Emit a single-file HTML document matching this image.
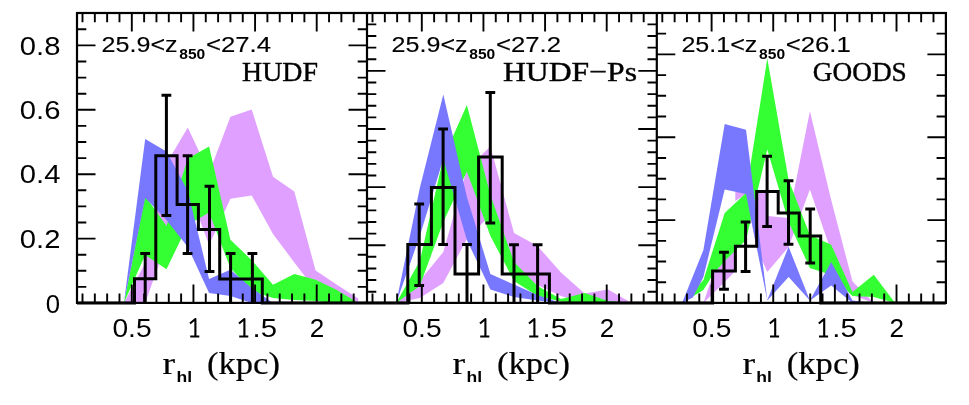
<!DOCTYPE html><html><head><meta charset="utf-8"><title>fig</title><style>html,body{margin:0;padding:0;background:#fff}svg{display:block}text{font-family:"Liberation Sans",sans-serif;fill:#000}.s{font-family:"Liberation Serif",serif}</style></head><body>
<svg width="969" height="405" viewBox="0 0 969 405">
<rect width="969" height="405" fill="#fff"/>
<g>
<polygon fill="#e0a0ff" points="123.9,302.9 145.2,263.0 166.5,163.5 187.8,127.5 209.1,173.0 230.4,116.7 251.7,109.5 273.0,176.7 294.3,191.6 315.6,270.6 336.9,284.7 358.2,298.4 358.2,302.9 336.9,298.0 315.6,290.0 294.3,262.4 273.0,234.0 251.7,195.4 230.4,198.7 209.1,245.0 187.8,188.0 166.5,243.0 145.2,302.9 123.9,302.9"/>
<polygon fill="#33ff33" points="123.9,302.9 145.2,196.0 166.5,226.0 187.8,158.5 209.1,146.5 230.4,239.7 251.7,260.2 273.0,284.7 294.3,274.0 315.6,279.7 336.9,290.0 358.2,302.9 358.2,302.9 336.9,302.9 315.6,301.0 294.3,300.0 273.0,298.0 251.7,291.0 230.4,268.0 209.1,212.5 187.8,225.0 166.5,269.2 145.2,255.0 123.9,302.9"/>
<polygon fill="#7878ff" points="123.9,302.9 145.2,139.0 166.5,151.4 187.8,191.0 209.1,279.0 230.4,269.8 251.7,288.0 273.0,302.9 294.3,302.9 315.6,302.9 336.9,302.9 358.2,302.9 358.2,302.9 336.9,302.9 315.6,302.9 294.3,302.9 273.0,302.9 251.7,302.9 230.4,296.0 209.1,293.0 187.8,247.0 166.5,220.0 145.2,197.9 123.9,302.9"/>
</g>
<g>
<polygon fill="#e0a0ff" points="396.2,302.9 419.8,280.7 443.3,252.0 466.9,169.0 490.4,146.5 514.0,233.0 537.5,246.0 561.0,272.5 584.6,293.5 608.1,289.5 631.7,302.9 631.7,302.9 608.1,302.9 584.6,302.9 561.0,296.0 537.5,285.0 514.0,270.0 490.4,215.0 466.9,239.0 443.3,283.0 419.8,298.0 396.2,302.9"/>
<polygon fill="#33ff33" points="396.2,302.9 419.8,261.0 443.3,158.0 466.9,105.1 490.4,195.0 514.0,262.0 537.5,286.0 561.0,299.0 584.6,293.0 608.1,301.0 631.7,302.9 631.7,302.9 608.1,302.9 584.6,302.9 561.0,301.5 537.5,296.0 514.0,281.0 490.4,236.0 466.9,171.5 443.3,222.0 419.8,286.0 396.2,302.9"/>
<polygon fill="#7878ff" points="396.2,302.9 419.8,188.0 443.3,94.4 466.9,197.0 490.4,274.0 514.0,284.6 537.5,295.0 561.0,302.9 584.6,302.9 608.1,302.9 631.7,302.9 631.7,302.9 608.1,302.9 584.6,302.9 561.0,302.9 537.5,300.5 514.0,297.0 490.4,289.6 466.9,240.0 443.3,159.0 419.8,236.0 396.2,302.9"/>
</g>
<g>
<polygon fill="#e0a0ff" points="703.4,302.9 724.7,240.0 735.3,215.0 735.3,191.4 767.3,192.5 767.3,216.0 788.6,218.0 809.9,111.3 831.2,200.0 852.5,281.5 873.8,302.9 873.8,302.9 852.5,295.0 831.2,251.6 809.9,189.5 788.6,247.0 767.3,272.0 756.6,248.0 746.0,194.0 735.3,201.0 735.3,271.0 724.7,282.0 703.4,302.9"/>
<polygon fill="#33ff33" points="682.1,302.9 703.4,280.0 724.7,213.0 746.0,193.0 767.3,58.6 788.6,180.0 809.9,235.0 831.2,244.8 852.5,292.0 873.8,274.7 895.1,302.9 916.4,302.9 916.4,302.9 895.1,302.9 873.8,297.0 852.5,296.0 831.2,275.0 809.9,268.0 788.6,222.0 767.3,149.6 746.0,240.0 724.7,261.0 714.0,273.0 703.4,290.0 682.1,302.9"/>
<polygon fill="#7878ff" points="682.1,302.9 703.4,250.0 724.7,124.0 746.0,129.8 767.3,300.0 788.6,246.8 809.9,300.5 831.2,262.0 852.5,300.5 873.8,302.9 895.1,302.9 916.4,302.9 916.4,302.9 895.1,302.9 873.8,302.9 852.5,302.9 831.2,285.6 809.9,300.5 788.6,277.0 767.3,300.5 746.0,194.0 724.7,189.5 703.4,277.0 692.8,297.5 682.1,302.9"/>
</g>
<path d="M77.0,302.9 L134.5,302.9 L134.5,278.7 L155.8,278.7 L155.8,155.8 L177.1,155.8 L177.1,204.5 L198.4,204.5 L198.4,229.4 L219.7,229.4 L219.7,278.9 L241.0,278.9 L241.0,278.9 L262.3,278.9 L262.3,302.9 L367.0,302.9" fill="none" stroke="#000" stroke-width="3" stroke-linejoin="miter"/>
<path d="M145.2,253.6 L145.2,302.9 M140.3,253.6 L150.1,253.6" fill="none" stroke="#000" stroke-width="3"/>
<path d="M166.4,95.2 L166.4,215.5 M161.5,95.2 L171.3,95.2 M161.5,215.5 L171.3,215.5" fill="none" stroke="#000" stroke-width="3"/>
<path d="M187.6,155.8 L187.6,253.6 M182.7,155.8 L192.5,155.8 M182.7,253.6 L192.5,253.6" fill="none" stroke="#000" stroke-width="3"/>
<path d="M209.5,186.3 L209.5,271.6 M204.6,186.3 L214.4,186.3 M204.6,271.6 L214.4,271.6" fill="none" stroke="#000" stroke-width="3"/>
<path d="M230.6,253.5 L230.6,302.9 M225.7,253.5 L235.5,253.5" fill="none" stroke="#000" stroke-width="3"/>
<path d="M252.4,253.5 L252.4,302.9 M247.5,253.5 L257.3,253.5" fill="none" stroke="#000" stroke-width="3"/>
<path d="M367.0,302.9 L407.8,302.9 L407.8,244.5 L431.4,244.5 L431.4,187.4 L455.0,187.4 L455.0,273.9 L478.6,273.9 L478.6,157.0 L502.2,157.0 L502.2,273.9 L525.8,273.9 L525.8,273.9 L549.4,273.9 L549.4,302.9 L656.8,302.9" fill="none" stroke="#000" stroke-width="3" stroke-linejoin="miter"/>
<path d="M419.2,204.0 L419.2,285.5 M414.3,204.0 L424.1,204.0 M414.3,285.5 L424.1,285.5" fill="none" stroke="#000" stroke-width="3"/>
<path d="M443.1,128.9 L443.1,244.6 M438.2,128.9 L448.0,128.9 M438.2,244.6 L448.0,244.6" fill="none" stroke="#000" stroke-width="3"/>
<path d="M467.0,244.6 L467.0,302.9 M462.1,244.6 L471.9,244.6" fill="none" stroke="#000" stroke-width="3"/>
<path d="M490.3,92.4 L490.3,223.0 M485.4,92.4 L495.2,92.4 M485.4,223.0 L495.2,223.0" fill="none" stroke="#000" stroke-width="3"/>
<path d="M514.0,244.8 L514.0,302.9 M509.1,244.8 L518.9,244.8" fill="none" stroke="#000" stroke-width="3"/>
<path d="M537.6,244.8 L537.6,302.9 M532.7,244.8 L542.5,244.8" fill="none" stroke="#000" stroke-width="3"/>
<path d="M656.8,302.9 L712.6,302.9 L712.6,270.9 L735.4,270.9 L735.4,246.2 L756.7,246.2 L756.7,191.4 L778.2,191.4 L778.2,212.9 L799.2,212.9 L799.2,236.1 L820.7,236.1 L820.7,302.9 L945.9,302.9" fill="none" stroke="#000" stroke-width="3" stroke-linejoin="miter"/>
<path d="M724.0,252.2 L724.0,289.2 M719.1,252.2 L728.9,252.2 M719.1,289.2 L728.9,289.2" fill="none" stroke="#000" stroke-width="3"/>
<path d="M745.6,222.1 L745.6,271.5 M740.7,222.1 L750.5,222.1 M740.7,271.5 L750.5,271.5" fill="none" stroke="#000" stroke-width="3"/>
<path d="M767.1,156.3 L767.1,226.4 M762.2,156.3 L772.0,156.3 M762.2,226.4 L772.0,226.4" fill="none" stroke="#000" stroke-width="3"/>
<path d="M788.5,180.7 L788.5,244.3 M783.6,180.7 L793.4,180.7 M783.6,244.3 L793.4,244.3" fill="none" stroke="#000" stroke-width="3"/>
<path d="M810.2,209.1 L810.2,262.9 M805.3,209.1 L815.1,209.1 M805.3,262.9 L815.1,262.9" fill="none" stroke="#000" stroke-width="3"/>
<g stroke="#000" fill="none" stroke-width="2.2">
<rect x="77.0" y="13.0" width="868.9" height="289.9"/>
<path d="M367.0,13.0 V302.9 M656.8,13.0 V302.9"/>
</g>
<path d="M82.50,13.0 v9.3 M82.50,302.9 v-9.3 M94.83,13.0 v9.3 M94.83,302.9 v-9.3 M107.15,13.0 v9.3 M107.15,302.9 v-9.3 M119.48,13.0 v9.3 M119.48,302.9 v-9.3 M131.81,13.0 v18.5 M131.81,302.9 v-18.5 M144.13,13.0 v9.3 M144.13,302.9 v-9.3 M156.46,13.0 v9.3 M156.46,302.9 v-9.3 M168.79,13.0 v9.3 M168.79,302.9 v-9.3 M181.12,13.0 v9.3 M181.12,302.9 v-9.3 M193.44,13.0 v18.5 M193.44,302.9 v-18.5 M205.77,13.0 v9.3 M205.77,302.9 v-9.3 M218.10,13.0 v9.3 M218.10,302.9 v-9.3 M230.42,13.0 v9.3 M230.42,302.9 v-9.3 M242.75,13.0 v9.3 M242.75,302.9 v-9.3 M255.08,13.0 v18.5 M255.08,302.9 v-18.5 M267.40,13.0 v9.3 M267.40,302.9 v-9.3 M279.73,13.0 v9.3 M279.73,302.9 v-9.3 M292.06,13.0 v9.3 M292.06,302.9 v-9.3 M304.39,13.0 v9.3 M304.39,302.9 v-9.3 M316.71,13.0 v18.5 M316.71,302.9 v-18.5 M329.04,13.0 v9.3 M329.04,302.9 v-9.3 M341.37,13.0 v9.3 M341.37,302.9 v-9.3 M353.69,13.0 v9.3 M353.69,302.9 v-9.3 M372.50,13.0 v9.3 M372.50,302.9 v-9.3 M384.83,13.0 v9.3 M384.83,302.9 v-9.3 M397.15,13.0 v9.3 M397.15,302.9 v-9.3 M409.48,13.0 v9.3 M409.48,302.9 v-9.3 M421.81,13.0 v18.5 M421.81,302.9 v-18.5 M434.13,13.0 v9.3 M434.13,302.9 v-9.3 M446.46,13.0 v9.3 M446.46,302.9 v-9.3 M458.79,13.0 v9.3 M458.79,302.9 v-9.3 M471.12,13.0 v9.3 M471.12,302.9 v-9.3 M483.44,13.0 v18.5 M483.44,302.9 v-18.5 M495.77,13.0 v9.3 M495.77,302.9 v-9.3 M508.10,13.0 v9.3 M508.10,302.9 v-9.3 M520.42,13.0 v9.3 M520.42,302.9 v-9.3 M532.75,13.0 v9.3 M532.75,302.9 v-9.3 M545.08,13.0 v18.5 M545.08,302.9 v-18.5 M557.40,13.0 v9.3 M557.40,302.9 v-9.3 M569.73,13.0 v9.3 M569.73,302.9 v-9.3 M582.06,13.0 v9.3 M582.06,302.9 v-9.3 M594.39,13.0 v9.3 M594.39,302.9 v-9.3 M606.71,13.0 v18.5 M606.71,302.9 v-18.5 M619.04,13.0 v9.3 M619.04,302.9 v-9.3 M631.37,13.0 v9.3 M631.37,302.9 v-9.3 M643.69,13.0 v9.3 M643.69,302.9 v-9.3 M662.30,13.0 v9.3 M662.30,302.9 v-9.3 M674.63,13.0 v9.3 M674.63,302.9 v-9.3 M686.95,13.0 v9.3 M686.95,302.9 v-9.3 M699.28,13.0 v9.3 M699.28,302.9 v-9.3 M711.61,13.0 v18.5 M711.61,302.9 v-18.5 M723.93,13.0 v9.3 M723.93,302.9 v-9.3 M736.26,13.0 v9.3 M736.26,302.9 v-9.3 M748.59,13.0 v9.3 M748.59,302.9 v-9.3 M760.92,13.0 v9.3 M760.92,302.9 v-9.3 M773.24,13.0 v18.5 M773.24,302.9 v-18.5 M785.57,13.0 v9.3 M785.57,302.9 v-9.3 M797.90,13.0 v9.3 M797.90,302.9 v-9.3 M810.22,13.0 v9.3 M810.22,302.9 v-9.3 M822.55,13.0 v9.3 M822.55,302.9 v-9.3 M834.88,13.0 v18.5 M834.88,302.9 v-18.5 M847.20,13.0 v9.3 M847.20,302.9 v-9.3 M859.53,13.0 v9.3 M859.53,302.9 v-9.3 M871.86,13.0 v9.3 M871.86,302.9 v-9.3 M884.19,13.0 v9.3 M884.19,302.9 v-9.3 M896.51,13.0 v18.5 M896.51,302.9 v-18.5 M908.84,13.0 v9.3 M908.84,302.9 v-9.3 M921.17,13.0 v9.3 M921.17,302.9 v-9.3 M933.49,13.0 v9.3 M933.49,302.9 v-9.3 M77.0,286.90 h9.3 M77.0,270.80 h9.3 M77.0,254.70 h9.3 M77.0,238.60 h18.5 M77.0,222.50 h9.3 M77.0,206.40 h9.3 M77.0,190.30 h9.3 M77.0,174.20 h18.5 M77.0,158.10 h9.3 M77.0,142.00 h9.3 M77.0,125.90 h9.3 M77.0,109.80 h18.5 M77.0,93.70 h9.3 M77.0,77.60 h9.3 M77.0,61.50 h9.3 M77.0,45.40 h18.5 M77.0,29.30 h9.3 M367.0,286.90 h-9.3 M367.0,270.80 h-9.3 M367.0,254.70 h-9.3 M367.0,238.60 h-18.5 M367.0,222.50 h-9.3 M367.0,206.40 h-9.3 M367.0,190.30 h-9.3 M367.0,174.20 h-18.5 M367.0,158.10 h-9.3 M367.0,142.00 h-9.3 M367.0,125.90 h-9.3 M367.0,109.80 h-18.5 M367.0,93.70 h-9.3 M367.0,77.60 h-9.3 M367.0,61.50 h-9.3 M367.0,45.40 h-18.5 M367.0,29.30 h-9.3 M367.0,291.68 h9.3 M367.0,280.06 h9.3 M367.0,268.44 h9.3 M367.0,256.82 h9.3 M367.0,245.20 h18.5 M367.0,233.58 h9.3 M367.0,221.96 h9.3 M367.0,210.34 h9.3 M367.0,198.72 h9.3 M367.0,187.10 h18.5 M367.0,175.48 h9.3 M367.0,163.86 h9.3 M367.0,152.24 h9.3 M367.0,140.62 h9.3 M367.0,129.00 h18.5 M367.0,117.38 h9.3 M367.0,105.76 h9.3 M367.0,94.14 h9.3 M367.0,82.52 h9.3 M367.0,70.90 h18.5 M367.0,59.28 h9.3 M367.0,47.66 h9.3 M367.0,36.04 h9.3 M367.0,24.42 h9.3 M656.8,291.68 h-9.3 M656.8,280.06 h-9.3 M656.8,268.44 h-9.3 M656.8,256.82 h-9.3 M656.8,245.20 h-18.5 M656.8,233.58 h-9.3 M656.8,221.96 h-9.3 M656.8,210.34 h-9.3 M656.8,198.72 h-9.3 M656.8,187.10 h-18.5 M656.8,175.48 h-9.3 M656.8,163.86 h-9.3 M656.8,152.24 h-9.3 M656.8,140.62 h-9.3 M656.8,129.00 h-18.5 M656.8,117.38 h-9.3 M656.8,105.76 h-9.3 M656.8,94.14 h-9.3 M656.8,82.52 h-9.3 M656.8,70.90 h-18.5 M656.8,59.28 h-9.3 M656.8,47.66 h-9.3 M656.8,36.04 h-9.3 M656.8,24.42 h-9.3 M656.8,282.28 h9.3 M656.8,261.56 h9.3 M656.8,240.84 h9.3 M656.8,220.12 h18.5 M656.8,199.40 h9.3 M656.8,178.68 h9.3 M656.8,157.96 h9.3 M656.8,137.24 h18.5 M656.8,116.52 h9.3 M656.8,95.80 h9.3 M656.8,75.08 h9.3 M656.8,54.36 h18.5 M656.8,33.64 h9.3 M945.9,282.28 h-9.3 M945.9,261.56 h-9.3 M945.9,240.84 h-9.3 M945.9,220.12 h-18.5 M945.9,199.40 h-9.3 M945.9,178.68 h-9.3 M945.9,157.96 h-9.3 M945.9,137.24 h-18.5 M945.9,116.52 h-9.3 M945.9,95.80 h-9.3 M945.9,75.08 h-9.3 M945.9,54.36 h-18.5 M945.9,33.64 h-9.3" stroke="#000" stroke-width="1.9" fill="none"/>
<defs><filter id="idf" x="0" y="0" width="100%" height="100%" filterUnits="userSpaceOnUse" color-interpolation-filters="sRGB"><feOffset dx="0" dy="0"/></filter></defs><g filter="url(#idf)">
<text x="19.8" y="54.6" font-size="26.0" text-anchor="start" textLength="40.6" lengthAdjust="spacingAndGlyphs">0.8</text>
<text x="19.8" y="119.2" font-size="26.0" text-anchor="start" textLength="40.6" lengthAdjust="spacingAndGlyphs">0.6</text>
<text x="19.8" y="183.4" font-size="26.0" text-anchor="start" textLength="40.6" lengthAdjust="spacingAndGlyphs">0.4</text>
<text x="19.8" y="248.1" font-size="26.0" text-anchor="start" textLength="40.6" lengthAdjust="spacingAndGlyphs">0.2</text>
<text x="45.7" y="312.6" font-size="26.0" text-anchor="start" textLength="14.3" lengthAdjust="spacingAndGlyphs">0</text>
<text x="112.4" y="337.3" font-size="26.0" text-anchor="start" textLength="39.2" lengthAdjust="spacingAndGlyphs">0.5</text>
<path d="M190.0,323.5 L195.4,319.0 V336.4 M190.2,336.5 H199.3" fill="none" stroke="#000" stroke-width="2.1" stroke-linejoin="round"/>
<path d="M239.0,323.5 L244.4,319.0 V336.4 M239.2,336.5 H248.3" fill="none" stroke="#000" stroke-width="2.1" stroke-linejoin="round"/>
<text x="252.5" y="337.3" font-size="26.0" text-anchor="start" textLength="24.4" lengthAdjust="spacingAndGlyphs">.5</text>
<text x="309.8" y="337.3" font-size="26.0" text-anchor="start" textLength="14.5" lengthAdjust="spacingAndGlyphs">2</text>
<text x="162.6" y="373.6" font-size="30.5" text-anchor="start" class="s" textLength="12.6" lengthAdjust="spacingAndGlyphs" stroke="#000" stroke-width="0.2">r</text>
<text x="176.5" y="381.5" font-size="15.5" text-anchor="start" textLength="15.6" lengthAdjust="spacingAndGlyphs" font-weight="bold">hl</text>
<text x="207.0" y="373.6" font-size="30.5" text-anchor="start" class="s" textLength="73.0" lengthAdjust="spacingAndGlyphs" stroke="#000" stroke-width="0.2">(kpc)</text>
<text x="402.4" y="337.3" font-size="26.0" text-anchor="start" textLength="39.2" lengthAdjust="spacingAndGlyphs">0.5</text>
<path d="M480.0,323.5 L485.4,319.0 V336.4 M480.2,336.5 H489.3" fill="none" stroke="#000" stroke-width="2.1" stroke-linejoin="round"/>
<path d="M529.0,323.5 L534.4,319.0 V336.4 M529.2,336.5 H538.3" fill="none" stroke="#000" stroke-width="2.1" stroke-linejoin="round"/>
<text x="542.5" y="337.3" font-size="26.0" text-anchor="start" textLength="24.4" lengthAdjust="spacingAndGlyphs">.5</text>
<text x="599.8" y="337.3" font-size="26.0" text-anchor="start" textLength="14.5" lengthAdjust="spacingAndGlyphs">2</text>
<text x="452.6" y="373.6" font-size="30.5" text-anchor="start" class="s" textLength="12.6" lengthAdjust="spacingAndGlyphs" stroke="#000" stroke-width="0.2">r</text>
<text x="466.5" y="381.5" font-size="15.5" text-anchor="start" textLength="15.6" lengthAdjust="spacingAndGlyphs" font-weight="bold">hl</text>
<text x="497.0" y="373.6" font-size="30.5" text-anchor="start" class="s" textLength="73.0" lengthAdjust="spacingAndGlyphs" stroke="#000" stroke-width="0.2">(kpc)</text>
<text x="692.2" y="337.3" font-size="26.0" text-anchor="start" textLength="39.2" lengthAdjust="spacingAndGlyphs">0.5</text>
<path d="M769.8,323.5 L775.2,319.0 V336.4 M770.0,336.5 H779.1" fill="none" stroke="#000" stroke-width="2.1" stroke-linejoin="round"/>
<path d="M818.8,323.5 L824.2,319.0 V336.4 M819.0,336.5 H828.1" fill="none" stroke="#000" stroke-width="2.1" stroke-linejoin="round"/>
<text x="832.3" y="337.3" font-size="26.0" text-anchor="start" textLength="24.4" lengthAdjust="spacingAndGlyphs">.5</text>
<text x="889.6" y="337.3" font-size="26.0" text-anchor="start" textLength="14.5" lengthAdjust="spacingAndGlyphs">2</text>
<text x="742.4" y="373.6" font-size="30.5" text-anchor="start" class="s" textLength="12.6" lengthAdjust="spacingAndGlyphs" stroke="#000" stroke-width="0.2">r</text>
<text x="756.3" y="381.5" font-size="15.5" text-anchor="start" textLength="15.6" lengthAdjust="spacingAndGlyphs" font-weight="bold">hl</text>
<text x="786.8" y="373.6" font-size="30.5" text-anchor="start" class="s" textLength="73.0" lengthAdjust="spacingAndGlyphs" stroke="#000" stroke-width="0.2">(kpc)</text>
<text x="101.6" y="52.1" font-size="21.8" text-anchor="start" textLength="76.0" lengthAdjust="spacingAndGlyphs" stroke="#000" stroke-width="0.15">25.9&lt;z</text>
<text x="179.3" y="58.5" font-size="14.5" text-anchor="start" textLength="26.0" lengthAdjust="spacingAndGlyphs" font-weight="bold">850</text>
<text x="206.0" y="52.1" font-size="21.8" text-anchor="start" textLength="65.0" lengthAdjust="spacingAndGlyphs" stroke="#000" stroke-width="0.15">&lt;27.4</text>
<text x="280.0" y="80.5" font-size="27.5" text-anchor="middle" class="s" textLength="76.0" lengthAdjust="spacingAndGlyphs" stroke="#000" stroke-width="0.4">HUDF</text>
<text x="391.6" y="52.1" font-size="21.8" text-anchor="start" textLength="76.0" lengthAdjust="spacingAndGlyphs" stroke="#000" stroke-width="0.15">25.9&lt;z</text>
<text x="469.3" y="58.5" font-size="14.5" text-anchor="start" textLength="26.0" lengthAdjust="spacingAndGlyphs" font-weight="bold">850</text>
<text x="496.0" y="52.1" font-size="21.8" text-anchor="start" textLength="65.0" lengthAdjust="spacingAndGlyphs" stroke="#000" stroke-width="0.15">&lt;27.2</text>
<text x="570.0" y="80.5" font-size="27.5" text-anchor="middle" class="s" textLength="134.0" lengthAdjust="spacingAndGlyphs" stroke="#000" stroke-width="0.4">HUDF&#8722;Ps</text>
<text x="681.4" y="52.1" font-size="21.8" text-anchor="start" textLength="76.0" lengthAdjust="spacingAndGlyphs" stroke="#000" stroke-width="0.15">25.1&lt;z</text>
<text x="759.1" y="58.5" font-size="14.5" text-anchor="start" textLength="26.0" lengthAdjust="spacingAndGlyphs" font-weight="bold">850</text>
<text x="785.8" y="52.1" font-size="21.8" text-anchor="start" textLength="65.0" lengthAdjust="spacingAndGlyphs" stroke="#000" stroke-width="0.15">&lt;26.1</text>
<text x="859.8" y="80.5" font-size="27.5" text-anchor="middle" class="s" textLength="94.0" lengthAdjust="spacingAndGlyphs" stroke="#000" stroke-width="0.4">GOODS</text>
</g>
</svg></body></html>
